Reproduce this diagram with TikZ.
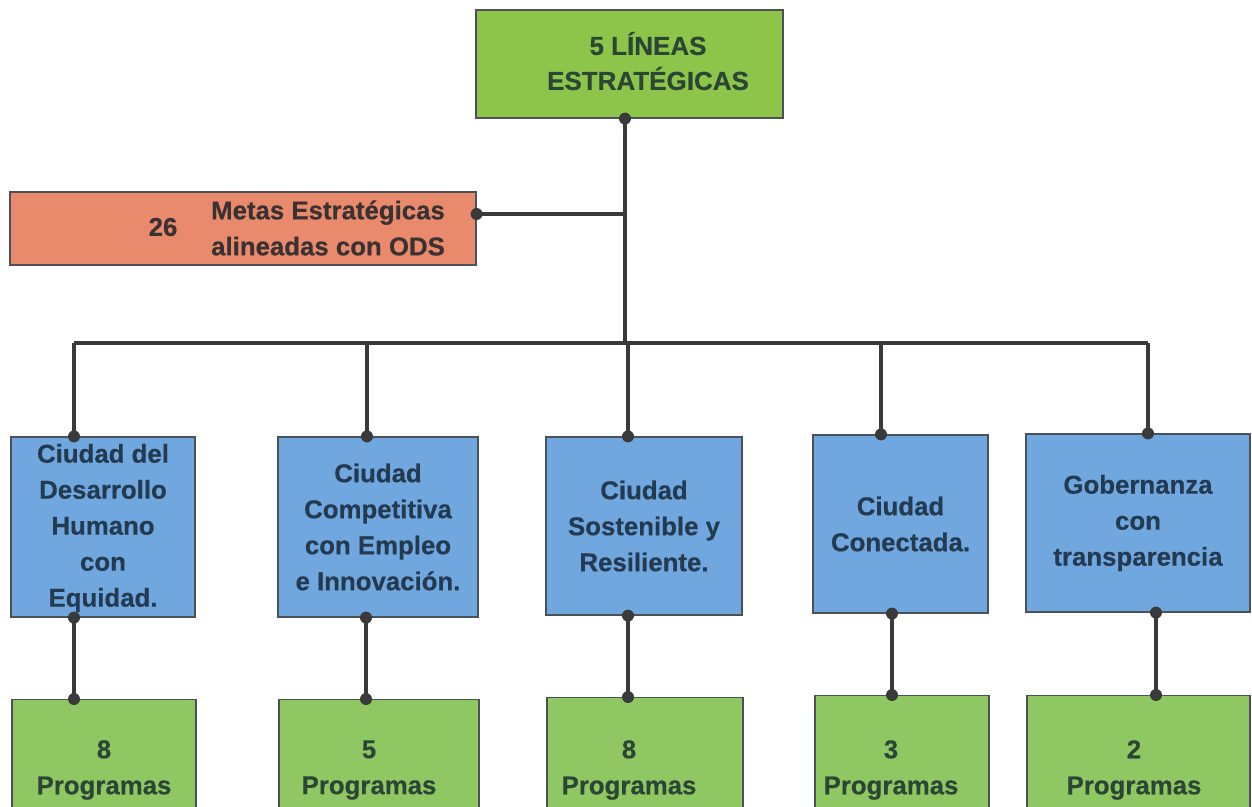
\documentclass[tikz,border=0pt]{standalone}
\usepackage{fontspec}
\setmainfont{Liberation Sans}[BoldFeatures={FakeBold=0.4}]
\definecolor{topgreen}{HTML}{8DC54B}
\definecolor{botgreen}{HTML}{8FC862}
\definecolor{boxblue}{HTML}{6FA7DE}
\definecolor{boxorange}{HTML}{E98A6C}
\definecolor{boxline}{HTML}{4A5258}
\definecolor{conn}{HTML}{3A3A3A}
\definecolor{txtblue}{HTML}{233A50}
\definecolor{txtgreen}{HTML}{2C4636}
\definecolor{txtorange}{HTML}{3A3232}
\tikzset{
  box/.style={draw=boxline, line width=1.2pt, inner sep=0pt, align=center,
    font=\bfseries\fontsize{25.8}{36}\selectfont},
  topbox/.style={box, fill=topgreen, text=txtgreen},
  bluebox/.style={box, fill=boxblue, text=txtblue},
  greenbox/.style={box, fill=botgreen, text=txtgreen},
  orangebox/.style={box, fill=boxorange},
  lbl/.style={inner sep=0pt, align=center, font=\bfseries\fontsize{25.8}{36}\selectfont},
  conline/.style={draw=conn, line width=4.2pt},
  dot/.style={fill=conn, circle, minimum size=12pt, inner sep=0pt}
}
\begin{document}
\begin{tikzpicture}[x=1pt,y=-1pt]
\useasboundingbox (0,0) rectangle (1252,806);
\clip (0,0) rectangle (1252,806);
% boxes
\node[topbox, minimum width=307pt, minimum height=108pt] (top) at (629.5,64) {};
\node[lbl, text=txtgreen, font=\bfseries\fontsize{26}{35}\selectfont] (toptxt) at (648,61) {5 LÍNEAS\\ESTRATÉGICAS};
\node[orangebox, minimum width=466pt, minimum height=73pt] (org) at (243,228.5) {};
\node[lbl, text=txtorange] (n26) at (163,227) {26};
\node[lbl, text=txtorange] (metas) at (328,228) {Metas Estratégicas\\alineadas con ODS};

\node[bluebox, minimum width=184pt, minimum height=180pt] (b1) at (103,527) {};
\node[lbl, text=txtblue] (t1) at (103,528) {Ciudad del\\Desarrollo\\Humano\\con\\Equidad.};
\node[bluebox, minimum width=200pt, minimum height=180pt] (b2) at (378,527) {Ciudad\\Competitiva\\con Empleo\\e Innovación.};
\node[bluebox, minimum width=196pt, minimum height=178pt] (b3) at (644,526) {Ciudad\\Sostenible y\\Resiliente.};
\node[bluebox, minimum width=175pt, minimum height=178pt] (b4) at (900.5,524) {Ciudad\\Conectada.};
\node[bluebox, minimum width=224pt, minimum height=178pt] (b5) at (1138,523) {Gobernanza\\con\\transparencia};

\node[greenbox, anchor=north, minimum width=184pt, minimum height=140pt] (g1) at (104,699) {};
\node[greenbox, anchor=north, minimum width=200pt, minimum height=140pt] (g2) at (379,699) {};
\node[greenbox, anchor=north, minimum width=196pt, minimum height=140pt] (g3) at (645,697) {};
\node[greenbox, anchor=north, minimum width=174pt, minimum height=140pt] (g4) at (902,695) {};
\node[greenbox, anchor=north, minimum width=223pt, minimum height=140pt] (g5) at (1138.5,695) {};
\node[lbl, text=txtgreen] (p1) at (104,770) {8\\Programas};
\node[lbl, text=txtgreen] (p2) at (369,770) {5\\Programas};
\node[lbl, text=txtgreen] (p3) at (629,770) {8\\Programas};
\node[lbl, text=txtgreen] (p4) at (891,770) {3\\Programas};
\node[lbl, text=txtgreen] (p5) at (1134,770) {2\\Programas};

% connector coordinates
\coordinate (tc) at (625,118);
\coordinate (hub) at (625,343);
\coordinate (oc) at (625,214);
\coordinate (h1) at (74,343);
\coordinate (h2) at (367,343);
\coordinate (h3) at (628,343);
\coordinate (h4) at (881,343);
\coordinate (h5) at (1148,343);
\coordinate (d1) at (74,0);
\coordinate (d2) at (366,0);
\coordinate (d3) at (628,0);
\coordinate (d4) at (892,0);
\coordinate (d5) at (1156,0);

% connectors
\draw[conline] (tc |- top.south) -- (hub);
\draw[conline] (org.east |- oc) -- (oc);
\draw[conline] (h1) -- (h5);
\foreach \i in {1,...,5} {
  \draw[conline] (h\i) -- (h\i |- b\i.north);
  \node[dot] at (h\i |- b\i.north) {};
  \draw[conline] (d\i |- b\i.south) -- (d\i |- g\i.north);
  \node[dot] at (d\i |- b\i.south) {};
  \node[dot] at (d\i |- g\i.north) {};
}
\node[dot] at (tc |- top.south) {};
\node[dot] at (org.east |- oc) {};
\end{tikzpicture}
\end{document}
